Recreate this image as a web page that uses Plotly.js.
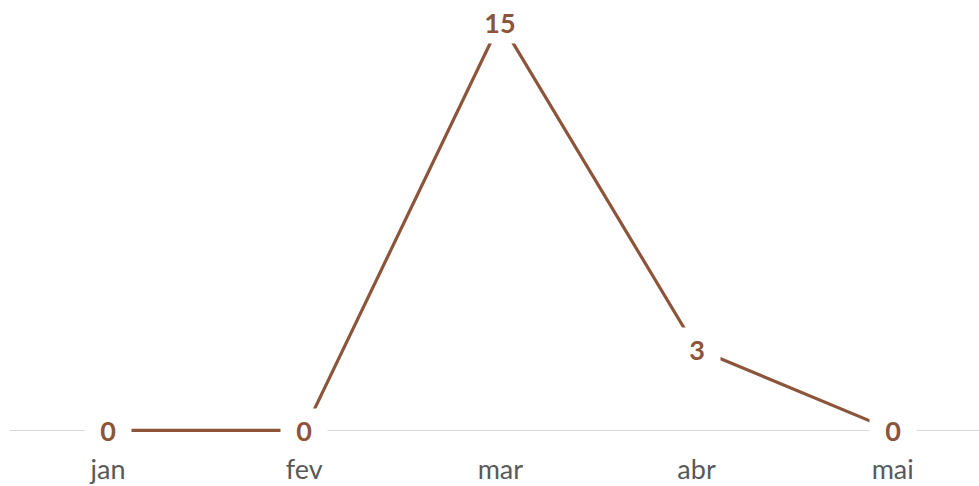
<!DOCTYPE html>
<html>
<head>
<meta charset="utf-8">
<script src="https://cdn.plot.ly/plotly-3.0.1.min.js"></script>
<style>
	html, body { margin:0; padding:0; background:#fff; }
	#chart { width:979px; height:486px; }
</style>
</head>
<body>
<div id="chart"></div>
<script>
"use strict";

// monthly values
var months = ['jan','fev','mar','abr','mai'];
var values = [0, 0, 15, 3, 0];

var lineColor = '#8c553a';

// data labels sit on a white box that hides the line under them
var labels = months.map(function(m, i){
	return {
		x: m,
		y: values[i],
		xref: 'x',
		yref: 'y',
		text: '<b>' + values[i] + '</b>',
		showarrow: false,
		bgcolor: '#ffffff',
		borderpad: 0,
		width: String(values[i]).length > 1 ? 62 : 46,
		height: 42,
		font: { family: 'Lato, "Open Sans", sans-serif', size: 27, color: lineColor }
	};
});

var data = [{
	x: months,
	y: values,
	type: 'scatter',
	mode: 'lines',
	line: { color: lineColor, width: 3.2 },
	hoverinfo: 'skip'
}];

var layout = {
	width: 979,
	height: 486,
	margin: { l: 10, r: 0, t: 22, b: 42 },
	paper_bgcolor: '#ffffff',
	plot_bgcolor: '#ffffff',
	showlegend: false,
	xaxis: {
		type: 'category',
		range: [-0.5, 4.44],
		showgrid: false,
		zeroline: false,
		showline: false,
		ticks: 'outside',
		ticklen: 2,
		tickcolor: 'rgba(0,0,0,0)',
		tickfont: { family: 'Lato, "Open Sans", sans-serif', size: 27, color: '#595959' },
		fixedrange: true
	},
	yaxis: {
		range: [-0.5, 15],
		showgrid: false,
		zeroline: true,
		zerolinecolor: '#d9d9d9',
		zerolinewidth: 1.5,
		showticklabels: false,
		fixedrange: true
	},
	annotations: labels
};

Plotly.newPlot('chart', data, layout, { displayModeBar: false, staticPlot: true });
</script>
</body>
</html>
